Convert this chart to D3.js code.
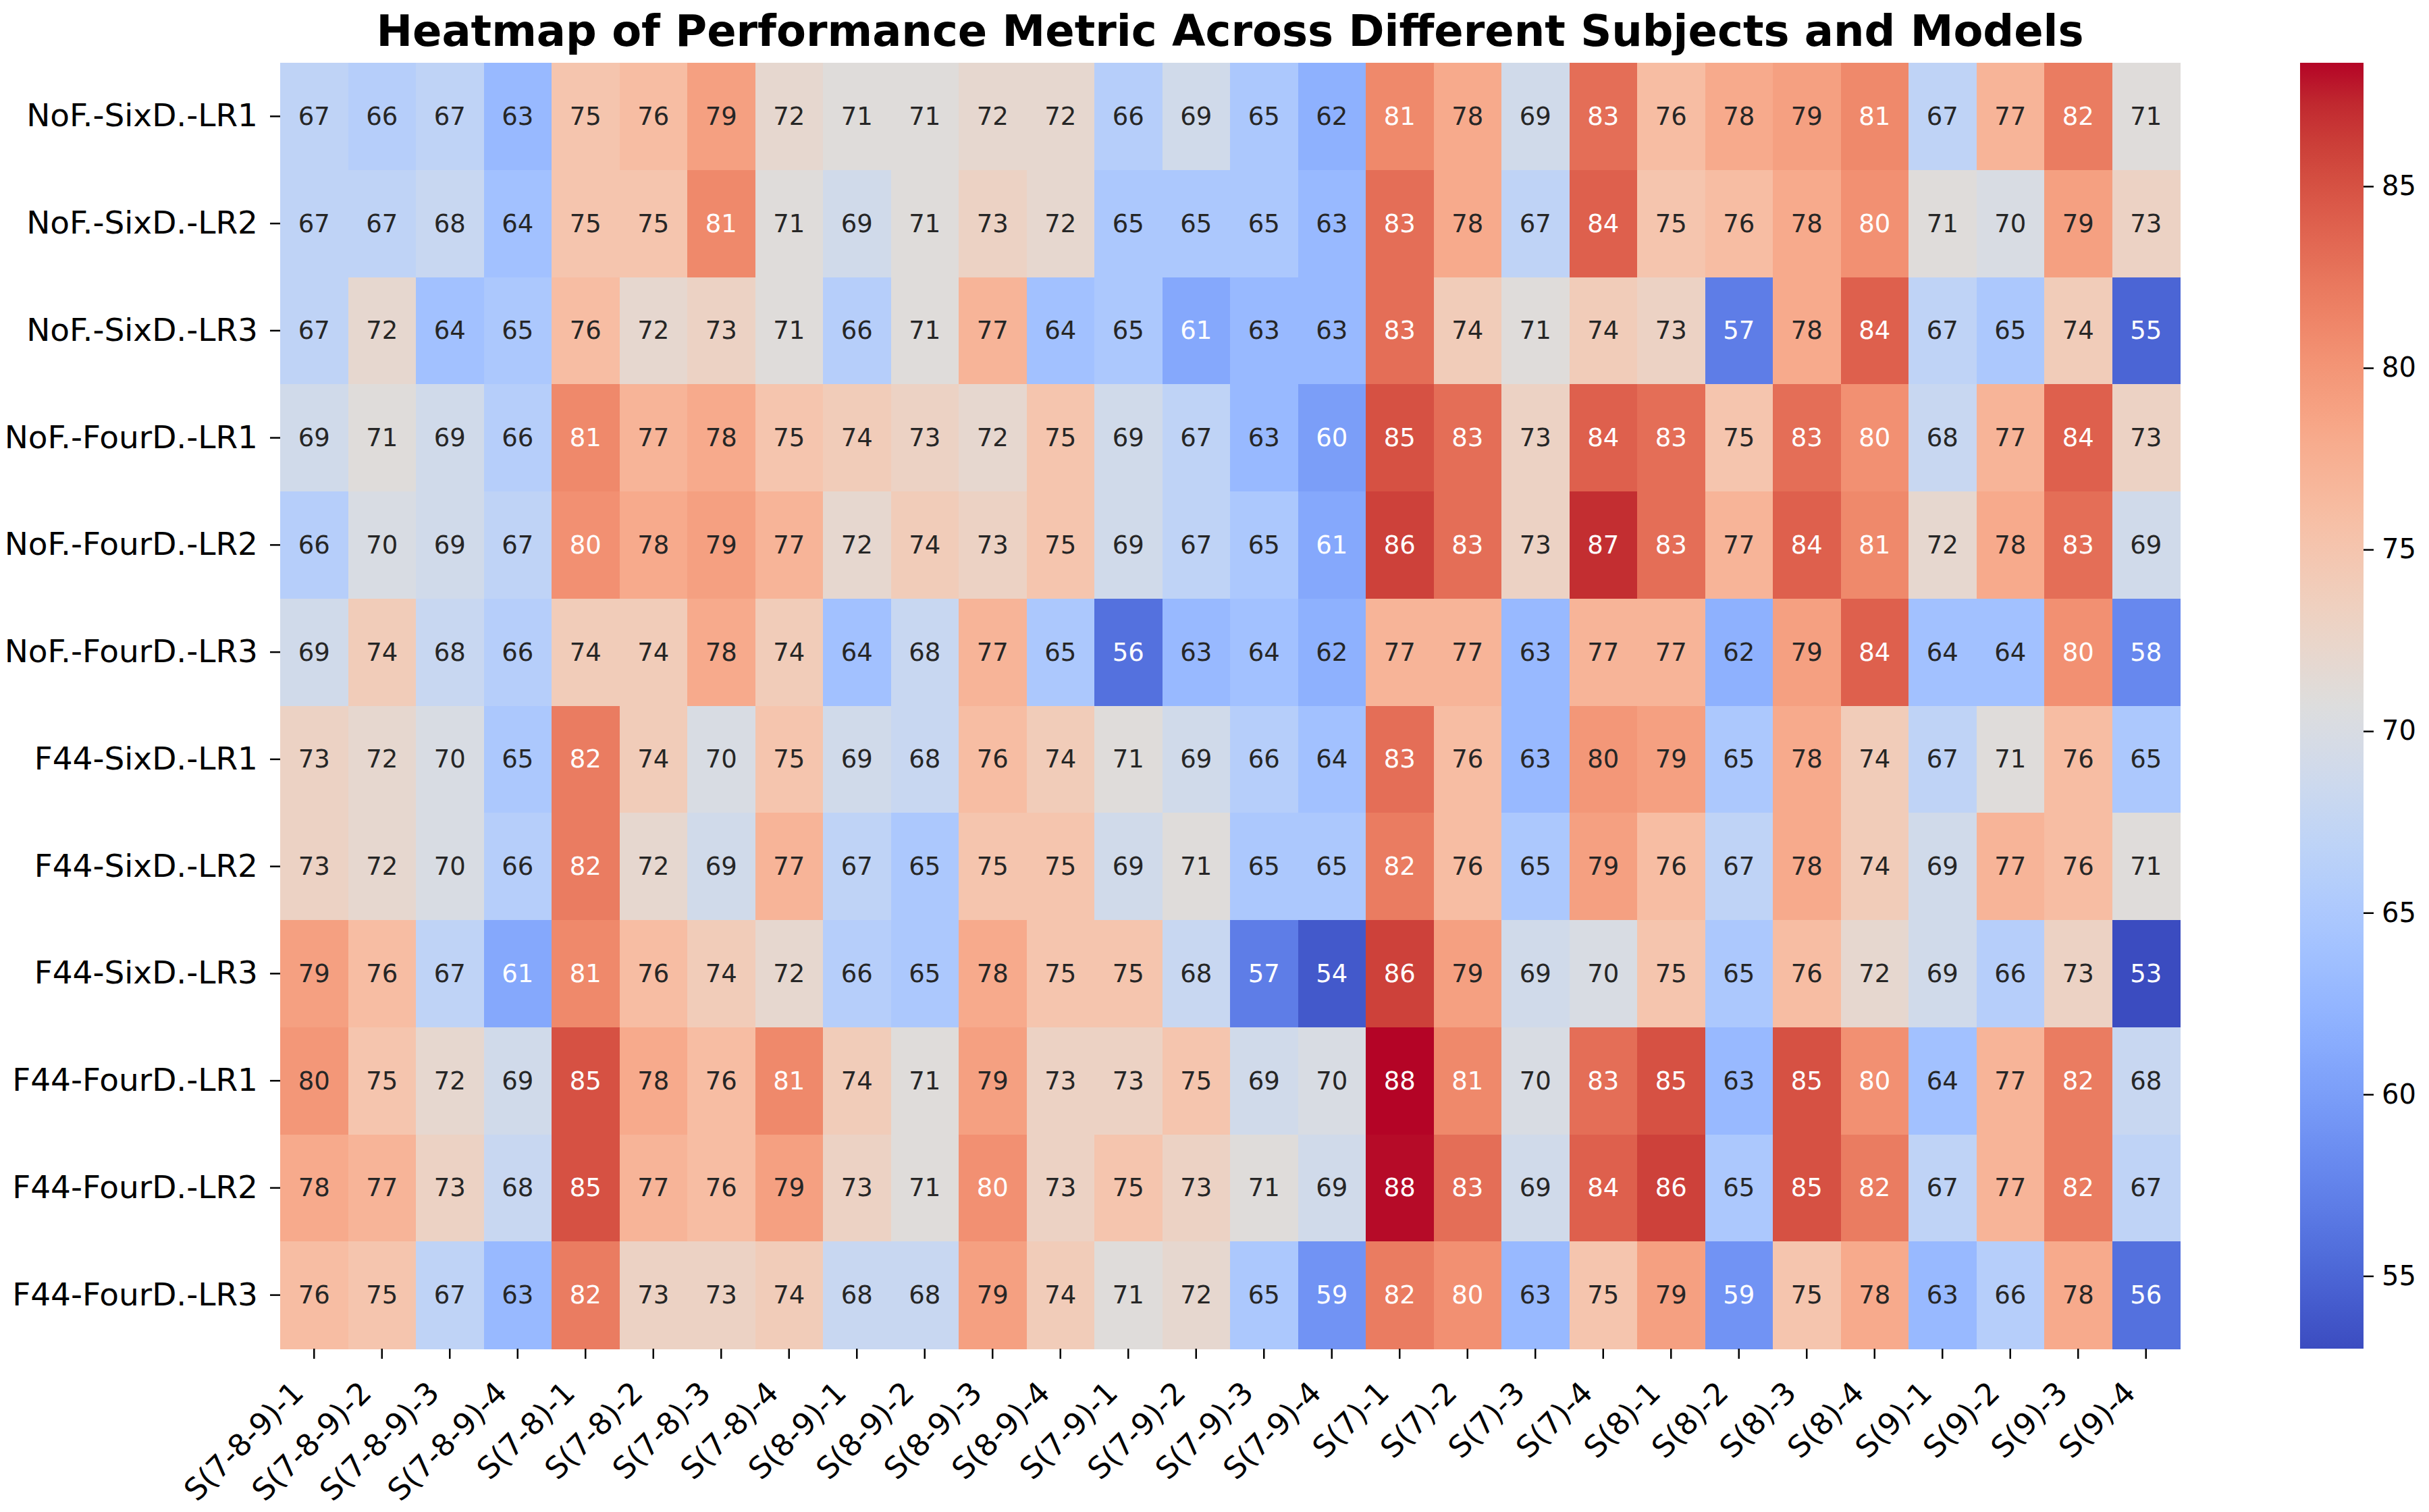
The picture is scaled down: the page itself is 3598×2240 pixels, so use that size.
<!DOCTYPE html>
<html>
<head>
<meta charset="utf-8">
<script src="https://cdn.jsdelivr.net/npm/d3@7"></script>
<style>
  html, body { margin: 0; padding: 0; background: #ffffff; }
  svg { display: block; font-family: "DejaVu Sans", sans-serif; }
</style>
</head>
<body>
<svg id="chart" width="3598" height="2240"></svg>
<script>
// ---------- data ----------
const title = "Heatmap of Performance Metric Across Different Subjects and Models";

const rowLabels = [
  "NoF.-SixD.-LR1", "NoF.-SixD.-LR2", "NoF.-SixD.-LR3",
  "NoF.-FourD.-LR1", "NoF.-FourD.-LR2", "NoF.-FourD.-LR3",
  "F44-SixD.-LR1", "F44-SixD.-LR2", "F44-SixD.-LR3",
  "F44-FourD.-LR1", "F44-FourD.-LR2", "F44-FourD.-LR3"
];

const colLabels = [
  "S(7-8-9)-1", "S(7-8-9)-2", "S(7-8-9)-3", "S(7-8-9)-4",
  "S(7-8)-1", "S(7-8)-2", "S(7-8)-3", "S(7-8)-4",
  "S(8-9)-1", "S(8-9)-2", "S(8-9)-3", "S(8-9)-4",
  "S(7-9)-1", "S(7-9)-2", "S(7-9)-3", "S(7-9)-4",
  "S(7)-1", "S(7)-2", "S(7)-3", "S(7)-4",
  "S(8)-1", "S(8)-2", "S(8)-3", "S(8)-4",
  "S(9)-1", "S(9)-2", "S(9)-3", "S(9)-4"
];

const values = [
  [67, 66, 67, 63, 75, 76, 79, 72, 71, 71, 72, 72, 66, 69, 65, 62, 81, 78, 69, 83, 76, 78, 79, 81, 67, 77, 82, 71],
  [67, 67, 68, 64, 75, 75, 81, 71, 69, 71, 73, 72, 65, 65, 65, 63, 83, 78, 67, 84, 75, 76, 78, 80.4, 71, 70, 79, 73],
  [67, 72, 64, 65, 76, 72, 73, 71, 66, 71, 77, 64, 65, 61, 63, 63, 83, 74, 71, 74, 73, 57, 78, 84, 67, 65, 74, 55],
  [69, 71, 69, 66, 81, 77, 78, 75, 74, 73, 72, 75, 69, 67, 63, 60, 85, 83, 73, 84, 83, 75, 83, 80.4, 68, 77, 84, 73],
  [66, 70, 69, 67, 80.4, 78, 79, 77, 72, 74, 73, 75, 69, 67, 65, 61, 86, 83, 73, 87, 83, 77, 84, 81, 72, 78, 83, 69],
  [69, 74, 68, 66, 74, 74, 78, 74, 64, 68, 77, 65, 56, 63, 64, 62, 77, 77, 63, 77, 77, 62, 79, 84, 64, 64, 80.4, 58],
  [73, 72, 70, 65, 82, 74, 70, 75, 69, 68, 76, 74, 71, 69, 66, 64, 83, 76, 63, 79.8, 79, 65, 78, 74, 67, 71, 76, 65],
  [73, 72, 70, 66, 82, 72, 69, 77, 67, 65, 75, 75, 69, 71, 65, 65, 82, 76, 65, 79, 76, 67, 78, 74, 69, 77, 76, 71],
  [79, 76, 67, 61, 81, 76, 74, 72, 66, 65, 78, 75, 75, 68, 57, 54, 86, 79, 69, 70, 75, 65, 76, 72, 69, 66, 73, 53],
  [79.8, 75, 72, 69, 85, 78, 76, 81, 74, 71, 79, 73, 73, 75, 69, 70, 88.4, 81, 70, 83, 85, 63, 85, 80.4, 64, 77, 82, 68],
  [78, 77, 73, 68, 85, 77, 76, 79, 73, 71, 80.4, 73, 75, 73, 71, 69, 88.2, 83, 69, 84, 86, 65, 85, 82, 67, 77, 82, 67],
  [76, 75, 67, 63, 82, 73, 73, 74, 68, 68, 79, 74, 71, 72, 65, 59, 82, 80.4, 63, 75, 79, 59, 75, 78, 63, 66, 78, 56]
];

const colorbarTicks = [55, 60, 65, 70, 75, 80, 85];

// matplotlib "coolwarm" control points (position, r, g, b)
const coolwarmStops = [
  [0.0, 0.2298057, 0.298717966, 0.753683153],
  [0.03125, 0.26623388, 0.353094838, 0.801466763],
  [0.0625, 0.30386891, 0.406535296, 0.84495867],
  [0.09375, 0.342804478, 0.458757618, 0.883725899],
  [0.125, 0.38301334, 0.50941904, 0.917387822],
  [0.15625, 0.424369608, 0.558148092, 0.945619588],
  [0.1875, 0.46666708, 0.604562568, 0.968154911],
  [0.21875, 0.509635204, 0.648280772, 0.98478814],
  [0.25, 0.552953156, 0.688929332, 0.995375608],
  [0.28125, 0.596262162, 0.726149107, 0.999836203],
  [0.3125, 0.639176211, 0.759599947, 0.998151185],
  [0.34375, 0.681291281, 0.788964712, 0.990363227],
  [0.375, 0.722193294, 0.813952739, 0.976574709],
  [0.40625, 0.761464949, 0.834302879, 0.956945269],
  [0.4375, 0.798691636, 0.849786142, 0.931688648],
  [0.46875, 0.833466556, 0.860207984, 0.901068838],
  [0.5, 0.865395197, 0.86541021, 0.865395561],
  [0.53125, 0.897787179, 0.848937047, 0.820880546],
  [0.5625, 0.924127593, 0.827384882, 0.774508472],
  [0.59375, 0.944468518, 0.800927443, 0.726736146],
  [0.625, 0.958852946, 0.769767752, 0.678007945],
  [0.65625, 0.96732803, 0.734132809, 0.628751763],
  [0.6875, 0.969954137, 0.694266682, 0.579375448],
  [0.71875, 0.966811177, 0.650421156, 0.530263762],
  [0.75, 0.958003065, 0.602842431, 0.481775914],
  [0.78125, 0.943660866, 0.551750968, 0.434243684],
  [0.8125, 0.923944917, 0.49730856, 0.387970225],
  [0.84375, 0.89904617, 0.439559467, 0.343229596],
  [0.875, 0.869186849, 0.378313092, 0.300267182],
  [0.90625, 0.834620542, 0.312874446, 0.259301199],
  [0.9375, 0.795631745, 0.24128379, 0.220525627],
  [0.96875, 0.752534934, 0.157246067, 0.184115123],
  [1.0, 0.705673158, 0.01555616, 0.150232812]
];

// ---------- layout ----------
const W = 3598, H = 2240;
const plot = { left: 415, right: 3229, top: 93, bottom: 1998 };
const cbar = { left: 3407, right: 3501, top: 93, bottom: 1998 };
const tickLen = 15;
const yLabelFont = 47;
const xLabelFont = 45;

const svg = d3.select("#chart");

// colormap
const coolwarm = d3.scaleLinear()
  .domain(coolwarmStops.map(d => d[0]))
  .range(coolwarmStops.map(d => d3.rgb(d[1] * 255, d[2] * 255, d[3] * 255).toString()))
  .interpolate(d3.interpolateRgb)
  .clamp(true);

const flat = values.flat();
const [vmin, vmax] = d3.extent(flat);
const norm = d3.scaleLinear().domain([vmin, vmax]).range([0, 1]).clamp(true);
const colorOf = v => coolwarm(norm(v));

function textColorFor(c) {
  const rgb = d3.rgb(c);
  const lin = x => { x = x / 255; return x <= 0.03928 ? x / 12.92 : Math.pow((x + 0.055) / 1.055, 2.4); };
  const lum = 0.2126 * lin(rgb.r) + 0.7152 * lin(rgb.g) + 0.0722 * lin(rgb.b);
  return lum > 0.408 ? "#262626" : "#ffffff";
}

const x = d3.scaleBand().domain(colLabels).range([plot.left, plot.right]).padding(0);
const y = d3.scaleBand().domain(rowLabels).range([plot.top, plot.bottom]).padding(0);

const cells = [];
values.forEach((row, i) => row.forEach((v, j) => cells.push({ r: rowLabels[i], c: colLabels[j], v })));

// cells
svg.append("g").selectAll("rect").data(cells).join("rect")
  .attr("x", d => x(d.c))
  .attr("y", d => y(d.r))
  .attr("width", x.bandwidth() + 0.6)
  .attr("height", y.bandwidth() + 0.6)
  .attr("fill", d => colorOf(d.v))
  .attr("shape-rendering", "crispEdges");

// annotations
svg.append("g").selectAll("text").data(cells).join("text")
  .attr("x", d => x(d.c) + x.bandwidth() / 2)
  .attr("y", d => y(d.r) + y.bandwidth() / 2)
  .attr("text-anchor", "middle")
  .attr("dominant-baseline", "central")
  .attr("font-size", 37)
  .attr("fill", d => textColorFor(colorOf(d.v)))
  .text(d => d3.format(".0f")(d.v));

// y axis
const yAxis = d3.axisLeft(y).tickSize(tickLen).tickPadding(18);
const gy = svg.append("g").attr("transform", `translate(${plot.left},0)`).call(yAxis);
gy.select(".domain").remove();
gy.selectAll(".tick line").attr("stroke", "#000").attr("stroke-width", 2.5);
gy.selectAll(".tick text")
  .attr("font-size", yLabelFont)
  .attr("font-family", "DejaVu Sans")
  .attr("fill", "#000");

// x axis
const xAxis = d3.axisBottom(x).tickSize(tickLen).tickPadding(0);
const gx = svg.append("g").attr("transform", `translate(0,${plot.bottom})`).call(xAxis);
gx.select(".domain").remove();
gx.selectAll(".tick line").attr("stroke", "#000").attr("stroke-width", 2.5);
const off = 0.354 * xLabelFont;
gx.selectAll(".tick text")
  .attr("font-size", xLabelFont)
  .attr("font-family", "DejaVu Sans")
  .attr("fill", "#000")
  .attr("text-anchor", "end")
  .attr("dominant-baseline", "central")
  .attr("dy", null)
  .attr("y", null)
  .attr("transform", `translate(${-off - 8},${tickLen + 26 + off}) rotate(-45)`);

// colorbar
const defs = svg.append("defs");
const grad = defs.append("linearGradient")
  .attr("id", "cbgrad").attr("x1", "0").attr("y1", "1").attr("x2", "0").attr("y2", "0");
d3.range(0, 1.0001, 1 / 64).forEach(t => {
  grad.append("stop").attr("offset", t).attr("stop-color", coolwarm(t));
});
svg.append("rect")
  .attr("x", cbar.left).attr("y", cbar.top)
  .attr("width", cbar.right - cbar.left).attr("height", cbar.bottom - cbar.top)
  .attr("fill", "url(#cbgrad)");

const cy = d3.scaleLinear().domain([vmin, vmax]).range([cbar.bottom, cbar.top]);
const cAxis = d3.axisRight(cy).tickValues(colorbarTicks).tickSize(tickLen).tickPadding(12).tickFormat(d3.format("d"));
const gc = svg.append("g").attr("transform", `translate(${cbar.right},0)`).call(cAxis);
gc.select(".domain").remove();
gc.selectAll(".tick line").attr("stroke", "#000").attr("stroke-width", 2.5);
gc.selectAll(".tick text")
  .attr("font-size", 40)
  .attr("font-family", "DejaVu Sans")
  .attr("fill", "#000");

// title
svg.append("text")
  .attr("x", (plot.left + plot.right) / 2)
  .attr("y", 68)
  .attr("text-anchor", "middle")
  .attr("font-size", 64)
  .attr("font-weight", "bold")
  .attr("fill", "#000")
  .text(title);
</script>
</body>
</html>
